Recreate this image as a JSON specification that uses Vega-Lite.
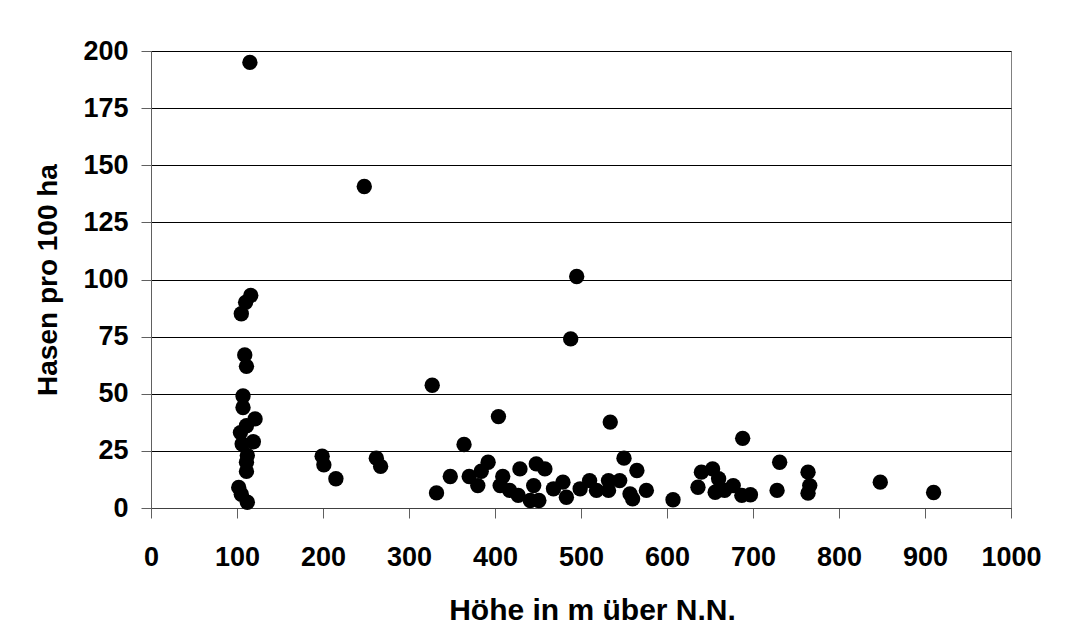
{
  "$schema": "https://vega.github.io/schema/vega-lite/v6.json",
  "autosize": {"type": "none"},
  "padding": {"left": 151, "top": 51, "right": 55, "bottom": 134},
  "width": 860,
  "height": 457,
  "background": "white",
  "config": {
    "view": {"stroke": "#808080", "strokeWidth": 1},
    "font": "Liberation Sans"
  },
  "data": {
    "values": [
      {"hoehe": 115, "hasen": 195},
      {"hoehe": 116, "hasen": 93},
      {"hoehe": 110, "hasen": 90},
      {"hoehe": 105, "hasen": 85},
      {"hoehe": 109, "hasen": 67},
      {"hoehe": 111, "hasen": 62},
      {"hoehe": 107, "hasen": 49},
      {"hoehe": 107, "hasen": 44},
      {"hoehe": 121, "hasen": 39},
      {"hoehe": 111, "hasen": 36},
      {"hoehe": 104, "hasen": 33},
      {"hoehe": 119, "hasen": 29},
      {"hoehe": 106, "hasen": 28},
      {"hoehe": 112, "hasen": 23},
      {"hoehe": 111, "hasen": 20},
      {"hoehe": 111, "hasen": 16},
      {"hoehe": 102, "hasen": 9},
      {"hoehe": 105, "hasen": 6},
      {"hoehe": 112, "hasen": 2.5},
      {"hoehe": 199, "hasen": 22.7},
      {"hoehe": 201, "hasen": 18.9},
      {"hoehe": 215, "hasen": 12.8},
      {"hoehe": 248, "hasen": 140.7},
      {"hoehe": 262, "hasen": 21.8},
      {"hoehe": 267, "hasen": 18.2},
      {"hoehe": 327, "hasen": 53.7},
      {"hoehe": 332, "hasen": 6.6},
      {"hoehe": 348, "hasen": 13.8},
      {"hoehe": 364, "hasen": 27.8},
      {"hoehe": 370, "hasen": 13.8},
      {"hoehe": 380, "hasen": 9.8},
      {"hoehe": 384, "hasen": 16.1},
      {"hoehe": 392, "hasen": 20},
      {"hoehe": 404, "hasen": 40},
      {"hoehe": 406, "hasen": 9.8},
      {"hoehe": 409, "hasen": 13.8},
      {"hoehe": 417, "hasen": 7.7},
      {"hoehe": 427, "hasen": 5.5},
      {"hoehe": 429, "hasen": 17.1},
      {"hoehe": 441, "hasen": 3.3},
      {"hoehe": 445, "hasen": 9.8},
      {"hoehe": 448, "hasen": 19.3},
      {"hoehe": 451, "hasen": 3.3},
      {"hoehe": 458, "hasen": 17.1},
      {"hoehe": 468, "hasen": 8.4},
      {"hoehe": 479, "hasen": 11.3},
      {"hoehe": 483, "hasen": 4.7},
      {"hoehe": 488, "hasen": 74},
      {"hoehe": 495, "hasen": 101.3},
      {"hoehe": 499, "hasen": 8.4},
      {"hoehe": 510, "hasen": 12},
      {"hoehe": 518, "hasen": 7.7},
      {"hoehe": 532, "hasen": 12},
      {"hoehe": 532, "hasen": 7.7},
      {"hoehe": 534, "hasen": 37.6},
      {"hoehe": 545, "hasen": 12},
      {"hoehe": 550, "hasen": 21.8},
      {"hoehe": 557, "hasen": 6.2},
      {"hoehe": 560, "hasen": 4},
      {"hoehe": 565, "hasen": 16.4},
      {"hoehe": 576, "hasen": 7.7},
      {"hoehe": 607, "hasen": 3.6},
      {"hoehe": 636, "hasen": 9.1},
      {"hoehe": 640, "hasen": 15.7},
      {"hoehe": 653, "hasen": 17.1},
      {"hoehe": 656, "hasen": 6.9},
      {"hoehe": 660, "hasen": 12.8},
      {"hoehe": 667, "hasen": 7.7},
      {"hoehe": 677, "hasen": 9.8},
      {"hoehe": 687, "hasen": 5.5},
      {"hoehe": 688, "hasen": 30.5},
      {"hoehe": 697, "hasen": 5.8},
      {"hoehe": 728, "hasen": 7.7},
      {"hoehe": 731, "hasen": 20},
      {"hoehe": 764, "hasen": 15.7},
      {"hoehe": 766, "hasen": 9.8},
      {"hoehe": 764, "hasen": 6.5},
      {"hoehe": 848, "hasen": 11.3},
      {"hoehe": 910, "hasen": 6.8}
    ]
  },
  "mark": {"type": "point", "filled": true, "shape": "circle", "size": 236, "color": "black", "opacity": 1},
  "encoding": {
    "x": {
      "field": "hoehe", "type": "quantitative",
      "scale": {"domain": [0, 1000], "nice": false, "zero": false},
      "axis": {
        "values": [0, 100, 200, 300, 400, 500, 600, 700, 800, 900, 1000],
        "format": "d",
        "grid": false,
        "title": "Höhe in m über N.N.",
        "titleFont": "Liberation Sans", "titleFontSize": 30, "titleFontWeight": "bold", "titleColor": "black",
        "titlePadding": 25, "titleX": 441, "titleAlign": "center",
        "labelFont": "Liberation Sans", "labelFontSize": 27, "labelFontWeight": "bold", "labelColor": "black",
        "labelPadding": 26, "labelOverlap": false, "labelFlush": false,
        "tickSize": 10, "tickColor": "#606060", "domainColor": "#404040", "tickWidth": 1, "domainWidth": 1
      }
    },
    "y": {
      "field": "hasen", "type": "quantitative",
      "scale": {"domain": [0, 200], "nice": false},
      "axis": {
        "values": [0, 25, 50, 75, 100, 125, 150, 175, 200],
        "grid": true, "gridColor": "black", "gridOpacity": 1, "gridWidth": 1,
        "title": "Hasen pro 100 ha",
        "titleFont": "Liberation Sans", "titleFontSize": 28, "titleFontWeight": "bold", "titleColor": "black",
        "titlePadding": 20,
        "labelFont": "Liberation Sans", "labelFontSize": 27, "labelFontWeight": "bold", "labelColor": "black",
        "labelPadding": 13, "labelOverlap": false, "labelFlush": false,
        "tickSize": 10, "tickColor": "#606060", "domainColor": "#606060", "tickWidth": 1, "domainWidth": 1
      }
    }
  }
}
